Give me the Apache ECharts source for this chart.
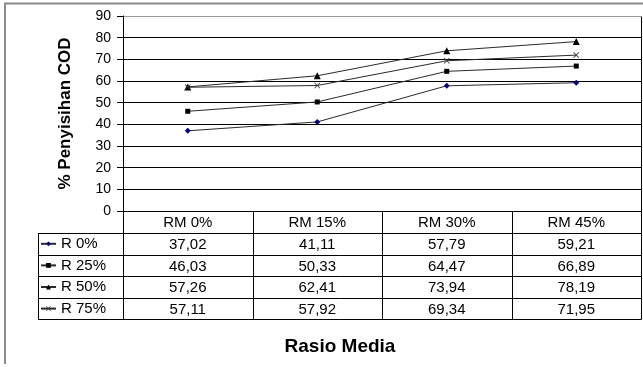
<!DOCTYPE html>
<html>
<head>
<meta charset="utf-8">
<script src="https://cdn.jsdelivr.net/npm/echarts@6/dist/echarts.min.js"></script>
<style>
html, body { margin: 0; padding: 0; background: #fff; }
#chart { width: 643px; height: 367px; }
</style>
</head>
<body>
<div id="chart"></div>
<script>
// Media ratio categories and COD removal (%) for each recirculation ratio
const categories = ['RM 0%', 'RM 15%', 'RM 30%', 'RM 45%'];
const seriesNames = ['R 0%', 'R 25%', 'R 50%', 'R 75%'];
const r0 = [37.02, 41.11, 57.79, 59.21];
const r25 = [46.03, 50.33, 64.47, 66.89];
const r50 = [57.26, 62.41, 73.94, 78.19];
const r75 = [57.11, 57.92, 69.34, 71.95];
const yMin = 0, yMax = 90, yStep = 10;

const FONT = '"Liberation Sans", Arial, sans-serif';
const allValues = [r0, r25, r50, r75];
const crossPath = 'path://M0,1L1,0L5,4L9,0L10,1L6,5L10,9L9,10L5,6L1,10L0,9L4,5Z';
const markers = [
  { symbol: 'diamond', size: 6, color: '#000080' },
  { symbol: 'rect', size: 5, color: '#000' },
  { symbol: 'triangle', size: 7, color: '#000' },
  { symbol: crossPath, size: 6, color: '#333' }
];

const ROW_H = 21.6;
const LEGEND_X = 40;
const TABLE_X = 38;

const chart = echarts.init(document.getElementById('chart'), null, { renderer: 'canvas' });

const option = {
  animation: false,
  backgroundColor: '#fff',
  textStyle: { fontFamily: FONT },
  grid: { left: 123, right: 2, top: 16, bottom: 156, containLabel: false },
  xAxis: {
    type: 'category',
    data: categories,
    boundaryGap: true,
    axisLine: { show: true, lineStyle: { color: '#000', width: 1 } },
    axisTick: { show: false },
    axisLabel: { show: false },
    splitLine: { show: false }
  },
  yAxis: {
    type: 'value',
    min: yMin, max: yMax, interval: yStep,
    name: '% Penyisihan COD',
    nameLocation: 'middle',
    nameRotate: 90,
    nameGap: 49,
    nameTextStyle: { fontFamily: FONT, fontSize: 17, fontWeight: 'bold', color: '#000' },
    axisLine: { show: true, lineStyle: { color: '#000', width: 1 } },
    axisTick: { show: true, inside: false, length: 6, lineStyle: { color: '#000' } },
    axisLabel: { fontFamily: FONT, fontSize: 14, color: '#000', margin: 12 },
    splitLine: { show: true, lineStyle: { color: ['#000', '#000', '#000', '#000', '#000', '#000', '#000', '#000', '#000', '#9a9a9a'], width: 1 } }
  },
  legend: {
    orient: 'vertical',
    left: LEGEND_X,
    top: 233,
    padding: 0,
    itemGap: 0,
    itemWidth: 15,
    itemHeight: 6,
    selectedMode: false,
    data: seriesNames,
    textStyle: { fontFamily: FONT, fontSize: 15, color: '#000', lineHeight: ROW_H }
  },
  series: seriesNames.map((name, i) => ({
    name: name,
    type: 'line',
    data: allValues[i],
    symbol: markers[i].symbol,
    symbolSize: markers[i].size,
    showAllSymbol: true,
    lineStyle: { color: '#2a2a2a', width: 1 },
    itemStyle: { color: markers[i].color, borderWidth: 0 },
    emphasis: { disabled: true }
  }))
};

chart.setOption(option);

// Data table under the plot: columns follow the category axis bands
function buildTable() {
  const centers = categories.map(c => chart.convertToPixel({ xAxisIndex: 0 }, c));
  const band = centers[1] - centers[0];
  const bounds = [centers[0] - band / 2].concat(centers.map(c => c + band / 2));
  const y0 = chart.convertToPixel({ yAxisIndex: 0 }, yMin);
  const yTop = chart.convertToPixel({ yAxisIndex: 0 }, yMax);
  const rowY = [y0];
  for (let r = 0; r <= seriesNames.length; r++) rowY.push(y0 + 22 + r * ROW_H);
  const yEnd = rowY[rowY.length - 1];
  const lineStyle = { stroke: '#000', lineWidth: 1 };
  const els = [];
  const crisp = v => Math.round(v) + 0.5;

  // horizontal rules for the value rows
  for (let r = 1; r < rowY.length; r++) {
    els.push({ type: 'line', silent: true, shape: { x1: TABLE_X, y1: crisp(rowY[r]), x2: crisp(bounds[bounds.length - 1]), y2: crisp(rowY[r]) }, style: lineStyle });
  }
  // column separators
  bounds.forEach((b, k) => {
    els.push({ type: 'line', silent: true, shape: { x1: crisp(b), y1: k === bounds.length - 1 ? crisp(yTop) : crisp(y0), x2: crisp(b), y2: crisp(yEnd) }, style: lineStyle });
  });
  els.push({ type: 'line', silent: true, shape: { x1: crisp(TABLE_X), y1: crisp(rowY[1]), x2: crisp(TABLE_X), y2: crisp(yEnd) }, style: lineStyle });

  // header row
  categories.forEach((c, k) => {
    els.push({ type: 'text', silent: true, x: centers[k], y: (rowY[0] + rowY[1]) / 2 + 1,
      style: { text: c, fontFamily: FONT, fontSize: 15, fill: '#000', align: 'center', verticalAlign: 'middle' } });
  });
  // value rows
  allValues.forEach((vals, r) => {
    vals.forEach((v, k) => {
      els.push({ type: 'text', silent: true, x: centers[k], y: (rowY[r + 1] + rowY[r + 2]) / 2 + 1,
        style: { text: v.toFixed(2).replace('.', ','), fontFamily: FONT, fontSize: 15, fill: '#000', align: 'center', verticalAlign: 'middle' } });
    });
  });

  // x-axis title
  els.push({ type: 'text', silent: true, x: 340, y: 347,
    style: { text: 'Rasio Media', fontFamily: FONT, fontSize: 19, fontWeight: 'bold', fill: '#000', align: 'center', verticalAlign: 'middle' } });

  // chart area frame
  els.push({ type: 'polyline', silent: true, shape: { points: [[5, 364], [5, 3.5], [700, 3.5]] },
    style: { stroke: '#8c8c8c', lineWidth: 2, fill: 'none' } });

  chart.setOption({ graphic: els });
}
buildTable();
</script>
</body>
</html>
